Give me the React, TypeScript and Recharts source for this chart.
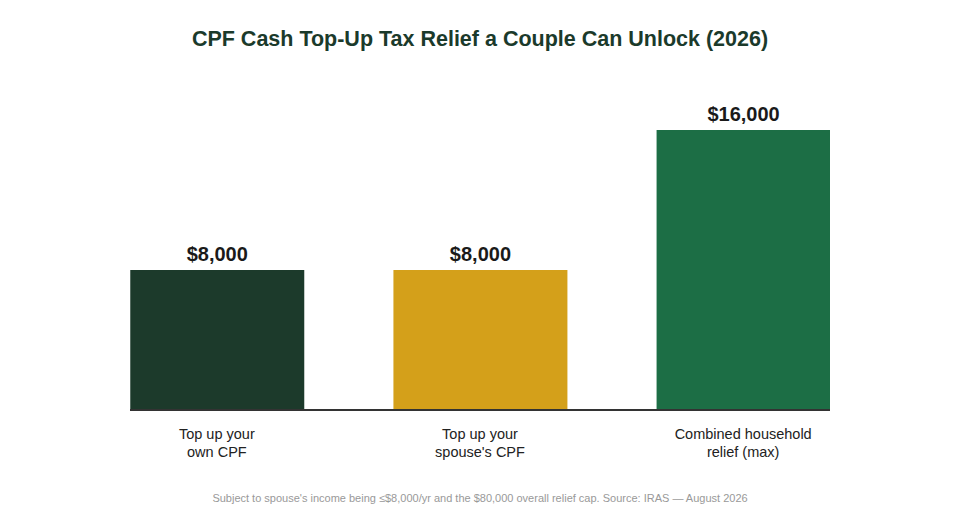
import React from "react";
import { BarChart, Bar, XAxis, YAxis, Cell, LabelList } from "recharts";

const categories = ["Top up your\nown CPF", "Top up your\nspouse's CPF", "Combined household\nrelief (max)"];
const values = [8000, 8000, 16000];
const colors = ["#1c3a2b", "#d4a01a", "#1c6e45"];
const xTicks = [0, 1, 2];

const data = categories.map((c, i) => ({ idx: i, name: c, value: values[i] }));

const FONT = "'Liberation Sans', Arial, Helvetica, sans-serif";

const Tick = (props: any) => {
  const { x, y, payload } = props;
  const lines = categories[payload.value].split("\n");
  return (
    <g transform={`translate(${x},${y})`}>
      {lines.map((l, i) => (
        <text key={i} x={0} y={21 + i * 18} textAnchor="middle" fontSize={14.5} fill="#222" fontFamily={FONT}>
          {l}
        </text>
      ))}
    </g>
  );
};

const fmt = (v: any) => "$" + Number(v).toLocaleString("en-US");

export default function App() {
  return (
    <div style={{ position: "absolute", left: 0, top: 0, width: 960, height: 520, background: "#fff", fontFamily: FONT }}>
      <div style={{ position: "absolute", left: 0, top: 27, width: 960, textAlign: "center", fontSize: 21.5, fontWeight: "bold", color: "#1b3a2b" }}>
        CPF Cash Top-Up Tax Relief a Couple Can Unlock (2026)
      </div>
      <BarChart width={960} height={520} data={data} margin={{ top: 95, right: 130, bottom: 50, left: 130 }}>
        <XAxis
          type="number"
          dataKey="idx"
          domain={[-0.33, 2.33]}
          allowDataOverflow
          ticks={xTicks}
          interval={0}
          tick={<Tick />}
          tickLine={false}
          axisLine={{ stroke: "#333", strokeWidth: 2 }}
          height={60}
        />
        <YAxis hide domain={[0, 18000]} />
        <Bar dataKey="value" barSize={174} isAnimationActive={false}>
          {data.map((d, i) => (
            <Cell key={i} fill={colors[i]} />
          ))}
          <LabelList
            dataKey="value"
            position="top"
            offset={9}
            formatter={fmt}
            style={{ fontSize: 20, fontWeight: "bold", fill: "#1a1a1a", fontFamily: FONT }}
          />
        </Bar>
      </BarChart>
      <div style={{ position: "absolute", left: 0, top: 492, width: 960, textAlign: "center", fontSize: 11, color: "#999" }}>
        Subject to spouse's income being ≤$8,000/yr and the $80,000 overall relief cap. Source: IRAS — August 2026
      </div>
    </div>
  );
}
